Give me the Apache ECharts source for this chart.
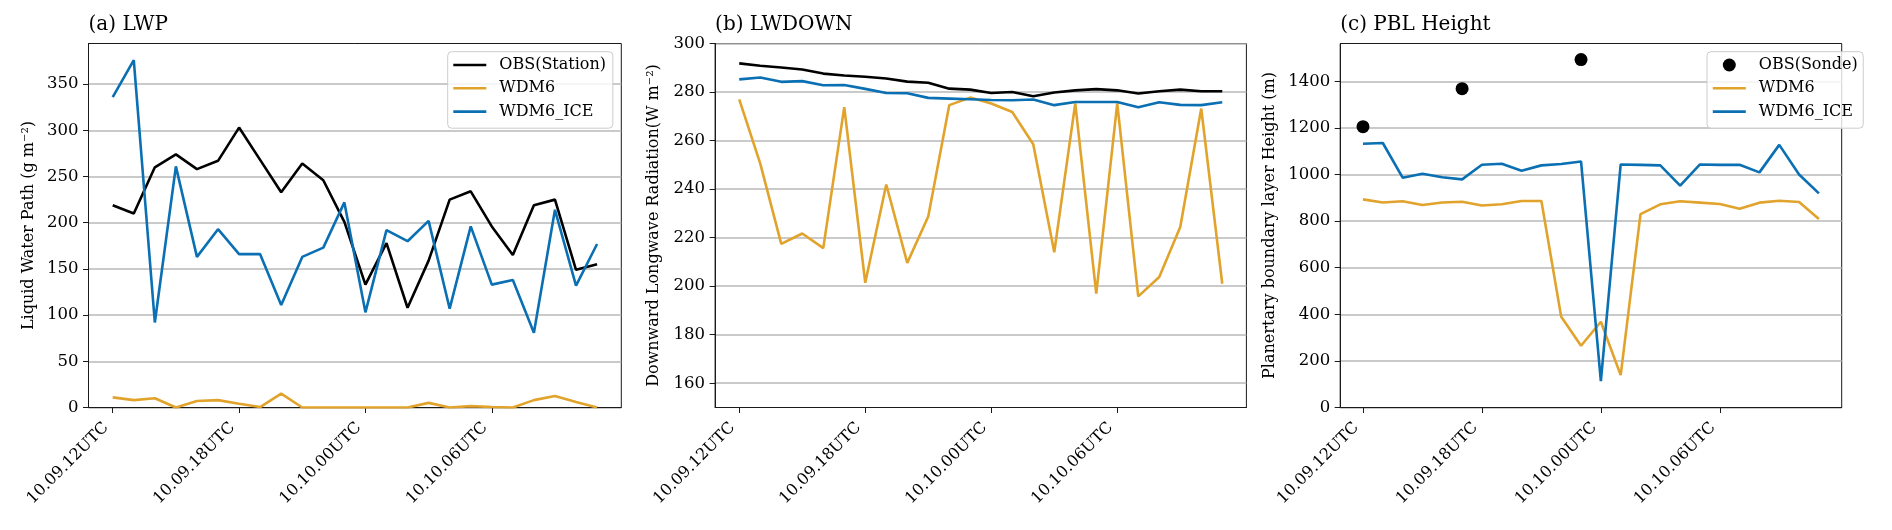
<!DOCTYPE html>
<html><head><meta charset="utf-8">
<script src="https://cdn.jsdelivr.net/npm/echarts@6/dist/echarts.min.js"></script>
<style>html,body{margin:0;padding:0;background:#fff}#c{width:1892px;height:530px}</style>
</head><body><div id="c"></div>
<script>
// ---- data ----
const hours = [0,1,2,3,4,5,6,7,8,9,10,11,12,13,14,15,16,17,18,19,20,21,22,23];
const xTickHours = [0,6,12,18];
const xTickLabels = ['10.09.12UTC','10.09.18UTC','10.10.00UTC','10.10.06UTC'];

const lwpObs  = [219,210,260,274,258,267,303,268,233,264,246,201,133,178,108,159,225,234,196,165,219,225,149,155];
const lwpWdm6 = [11,8,10,0,7,8,4,0.5,15,0,0,0,0,0,0,5,0,1.5,0.5,0,8,12.5,6,0];
const lwpIce  = [336,376,92,261,163,193,166,166,111,163,173,222,103,192,180,202,107,196,133,138,81,214,132,177];

const lwdObs  = [291.8,290.8,290.1,289.3,287.6,286.8,286.3,285.6,284.3,283.8,281.4,281.0,279.6,280.0,278.3,279.8,280.7,281.2,280.7,279.4,280.3,281.0,280.3,280.3];
const lwdWdm6 = [277,250.5,217.4,221.7,215.7,273.8,201.4,241.9,209.6,228.7,274.6,277.7,275.3,271.8,258.5,214,275.3,196.9,275.3,195.8,203.8,224.4,273.2,201];
const lwdIce  = [285.2,286.0,284.2,284.5,282.8,282.9,281.3,279.6,279.5,277.6,277.3,277.0,276.7,276.6,276.9,274.6,275.9,275.9,275.9,273.7,275.8,274.7,274.6,275.8];

const pblSondeHours  = [0,5,11];
const pblSondeValues = [1205,1368,1493];
const pblWdm6 = [893,880,885,869,880,883,867,872,886,886,389,265,368,139,830,872,885,879,873,853,879,887,882,809];
const pblIce  = [1132,1135,986,1003,988,979,1042,1046,1016,1039,1045,1056,113,1043,1041,1039,952,1043,1041,1042,1009,1127,1000,919];

const lwpTicks = [0,50,100,150,200,250,300,350];
const lwdTicks = [160,180,200,220,240,260,280,300];
const pblTicks = [0,200,400,600,800,1000,1200,1400];

const titles = ['(a) LWP','(b) LWDOWN','(c) PBL Height'];
const yNames = ['Liquid Water Path (g m\u207B\u00B2)','Downward Longwave Radiation(W m\u207B\u00B2)','Planertary boundary layer Height (m)'];

// ---- style ----
const FONT = 'DejaVu Serif';
const C_OBS = '#000000', C_W6 = '#E1A32B', C_ICE = '#0A6FB3';
const AX = '#1a1a1a';
const LW = 2.6;
const LINE_ICON = 'path://M0,0 H33 V2.6 H0 Z';

const pairs = (xs, ys) => xs.map((x, i) => [x, ys[i]]);

const gridDefs = [
  {left: 88.5, width: 532.8},
  {left: 715.1, width: 531.3},
  {left: 1340.2, width: 501.5}
];
const yDefs = [
  {min: 0, max: 394, ticks: lwpTicks, gap: 52},
  {min: 150, max: 300, ticks: lwdTicks, gap: 53},
  {min: 0, max: 1562, ticks: pblTicks, gap: 62}
];

const grid = gridDefs.map(g => ({
  left: g.left, top: 43.5, width: g.width, height: 364,
  show: true, borderColor: AX, borderWidth: 1, backgroundColor: 'transparent'
}));

const xAxis = gridDefs.map((g, i) => ({
  type: 'value', gridIndex: i, min: -1.15, max: 24.15,
  splitLine: {show: false},
  axisLine: {show: true, onZero: false, lineStyle: {color: AX, width: 1}},
  axisTick: {show: true, length: 5.5, customValues: xTickHours, lineStyle: {color: AX, width: 1}},
  axisLabel: {
    customValues: xTickHours, rotate: 45, margin: 11, padding: [0, 9.5, 0, 0],
    fontFamily: FONT, fontSize: 16, color: '#000',
    formatter: v => xTickLabels[xTickHours.indexOf(v)]
  }
}));

const yAxis = yDefs.map((d, i) => ({
  type: 'value', gridIndex: i, min: d.min, max: d.max,
  name: yNames[i], nameLocation: 'middle', nameGap: d.gap, nameRotate: 90,
  nameTextStyle: {fontFamily: FONT, fontSize: 16, color: '#000'},
  axisLine: {show: true, onZero: false, lineStyle: {color: AX, width: 1}},
  axisTick: {show: true, length: 5.5, customValues: d.ticks, lineStyle: {color: AX, width: 1}},
  axisLabel: {customValues: d.ticks, margin: 10, fontFamily: FONT, fontSize: 16.5, color: '#000',
    formatter: v => String(v)},
  splitLine: {show: true, lineStyle: {color: '#b8b8b8', width: 1.5}}
}));

const line = (name, idx, data, color) => ({
  name, type: 'line', xAxisIndex: idx, yAxisIndex: idx,
  data: pairs(hours, data), symbol: 'none', showSymbol: false,
  lineStyle: {color, width: LW}, itemStyle: {color},
  emphasis: {disabled: true}, animation: false, z: 3
});

const series = [
  line('OBS(Station)', 0, lwpObs, C_OBS),
  line('WDM6', 0, lwpWdm6, C_W6),
  line('WDM6_ICE', 0, lwpIce, C_ICE),
  line('OBS(Station)', 1, lwdObs, C_OBS),
  line('WDM6', 1, lwdWdm6, C_W6),
  line('WDM6_ICE', 1, lwdIce, C_ICE),
  {
    name: 'OBS(Sonde)', type: 'scatter', xAxisIndex: 2, yAxisIndex: 2,
    data: pairs(pblSondeHours, pblSondeValues), symbol: 'circle', symbolSize: 13,
    itemStyle: {color: C_OBS, opacity: 1}, emphasis: {disabled: true}, animation: false, z: 3
  },
  line('WDM6', 2, pblWdm6, C_W6),
  line('WDM6_ICE', 2, pblIce, C_ICE)
];

const legendBase = {
  orient: 'vertical', selectedMode: false,
  itemWidth: 33, itemHeight: 13, itemGap: 7.3, symbolKeepAspect: true,
  backgroundColor: 'rgba(255,255,255,0.8)', borderColor: '#cccccc', borderWidth: 1, borderRadius: 4,
  textStyle: {fontFamily: FONT, fontSize: 16, color: '#000', lineHeight: 16, padding: [0, 0, 0, 8]}
};
const lineItem = (name, color) => ({name, icon: LINE_ICON, itemStyle: {color, borderWidth: 0}});
const legend = [
  Object.assign({}, legendBase, {left: 447.7, top: 51.7, padding: [5.3, 6.8, 8.6, 5.6],
    data: [lineItem('OBS(Station)', C_OBS), lineItem('WDM6', C_W6), lineItem('WDM6_ICE', C_ICE)]}),
  Object.assign({}, legendBase, {left: 1707, top: 51.7, padding: [5.3, 5.5, 8.6, 5.8],
    data: [{name: 'OBS(Sonde)', icon: 'circle', itemStyle: {color: C_OBS, opacity: 1}},
           lineItem('WDM6', C_W6), lineItem('WDM6_ICE', C_ICE)]})
];

const title = titles.map((t, i) => ({
  text: t, left: gridDefs[i].left, top: 15, padding: 0,
  textStyle: {fontFamily: FONT, fontSize: 20, fontWeight: 'normal', color: '#000'}
}));

const chart = echarts.init(document.getElementById('c'), null, {renderer: 'canvas', width: 1892, height: 530});
chart.setOption({
  backgroundColor: '#ffffff',
  animation: false,
  textStyle: {fontFamily: FONT},
  title, legend, grid, xAxis, yAxis, series
});
</script>
</body></html>
